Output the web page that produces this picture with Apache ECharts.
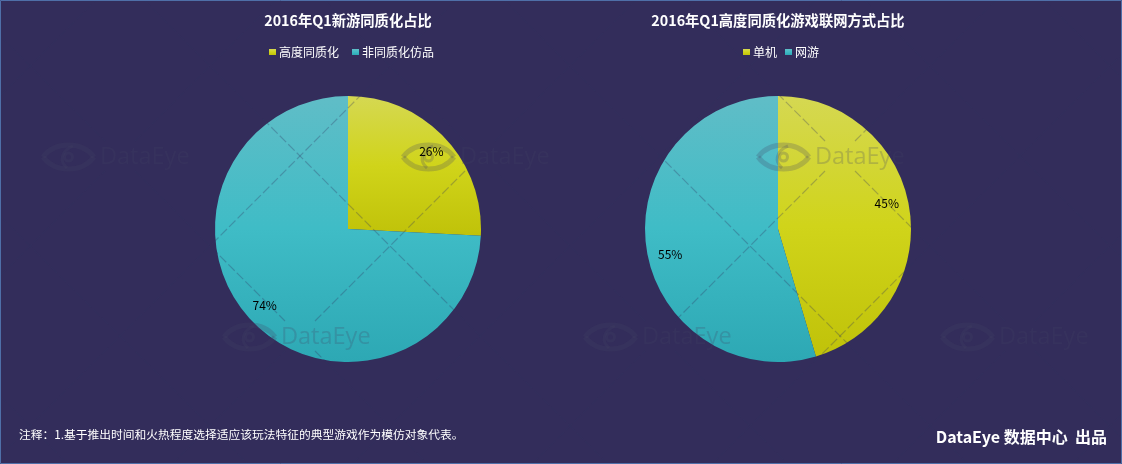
<!DOCTYPE html>
<html>
<head>
<meta charset="utf-8">
<style>
  html, body { margin: 0; padding: 0; background: #332d5b; }
  #main { width: 1122px; height: 464px; }
</style>
<script src="https://cdn.jsdelivr.net/npm/echarts@6/dist/echarts.min.js"></script>
</head>
<body>
<div id="main"></div>
<script>
// 数据
var leftTitle = '2016年Q1新游同质化占比';
var leftNames = ['高度同质化', '非同质化仿品'];
var leftValues = [25.8, 74.2];
var rightTitle = '2016年Q1高度同质化游戏联网方式占比';
var rightNames = ['单机', '网游'];
var rightValues = [45.4, 54.6];
var noteText = '注释：1.基于推出时间和火热程度选择适应该玩法特征的典型游戏作为模仿对象代表。';
var sourceText = 'DataEye 数据中心  出品';

var cjk = '"Noto Sans CJK SC", "Noto Sans", sans-serif';
var yellow = grad('#d5d852', '#d0d41a', '#c0c209');
var teal = grad('#60bdc7', '#3fbcc6', '#2da8b4');

function grad(a, b, c) {
    return {
        type: 'linear', x: 0, y: 0, x2: 0, y2: 1,
        colorStops: [{offset: 0, color: a}, {offset: 0.5, color: b}, {offset: 1, color: c}]
    };
}

function toData(names, values) {
    return names.map(function (n, i) {
        return {name: n, value: values[i], itemStyle: {color: i === 0 ? yellow : teal}};
    });
}

// 饼图本体
function pie(names, values, cx) {
    return {
        type: 'pie',
        z: 2,
        center: [cx, 229],
        radius: 133,
        startAngle: 90,
        label: {show: false},
        labelLine: {show: false},
        data: toData(names, values)
    };
}

// 百分比标签单独一层，压在水印上面
function pieLabels(names, values, cx, nudge) {
    return {
        type: 'pie',
        z: 4,
        silent: true,
        center: [cx, 229],
        radius: [91, 133],
        startAngle: 90,
        percentPrecision: 0,
        avoidLabelOverlap: false,
        itemStyle: {color: 'transparent'},
        label: {position: 'inner', formatter: '{d}%', color: '#000', fontSize: 12, fontFamily: cjk},
        labelLine: {show: false},
        emphasis: {disabled: true},
        data: names.map(function (n, i) {
            return {name: n, value: values[i], label: {offset: nudge[i]}};
        })
    };
}

// 水印
var markColor = 'rgba(68,68,100,0.24)';
var markPos = [[41, 157], [401, 157], [756, 157], [222, 337], [583, 337], [940, 337]];
var gapCentres = [];
[-24, 156, 336, 516].forEach(function (y, r) {
    for (var x = (r % 2 ? 120 : 300) - 720; x < 1500; x += 360) gapCentres.push([x, y]);
});

function diagonals() {
    var out = [];
    [1, -1].forEach(function (dir) {
        var k0 = dir === 1 ? -396 : 96;
        for (var k = k0; k < 1700; k += 180) {
            var xs = [dir === 1 ? Math.max(0, k) : Math.max(0, k - 464),
                      dir === 1 ? Math.min(1122, k + 464) : Math.min(1122, k)];
            if (xs[0] >= xs[1]) continue;
            var cuts = gapCentres.filter(function (p) {
                return dir === 1 ? p[0] - p[1] === k : p[0] + p[1] === k;
            }).map(function (p) { return p[0]; }).sort(function (a, b) { return a - b; });
            var from = xs[0];
            cuts.concat([1e5]).forEach(function (cx) {
                var to = Math.min(xs[1], cx - 15);
                if (to > from) {
                    out.push({
                        type: 'line', silent: true, z: 3,
                        shape: {
                            x1: from, y1: dir === 1 ? from - k : k - from,
                            x2: to, y2: dir === 1 ? to - k : k - to
                        },
                        style: {stroke: 'rgba(50,52,95,0.3)', lineWidth: 1.2, lineDash: [9, 3]}
                    });
                }
                from = Math.max(from, cx + 15);
            });
        }
    });
    return out;
}

function curve(x1, y1, cx1, cy1, cx2, cy2, x2, y2, w) {
    return {
        type: 'bezierCurve', z: 3,
        shape: {x1: x1, y1: y1, cpx1: cx1, cpy1: cy1, cpx2: cx2, cpy2: cy2, x2: x2, y2: y2},
        style: {fill: null, stroke: markColor, lineWidth: w}
    };
}

function watermark(p) {
    return {
        type: 'group', silent: true, x: p[0], y: p[1] - 13, z: 3,
        children: [
            curve(2, 13, 14, -3, 41, -3, 53, 13, 5),
            curve(2, 13, 14, 29, 41, 29, 53, 13, 5),
            curve(32, 2, 20, 7, 18, 17, 26, 24, 3),
            {type: 'circle', z: 3, shape: {cx: 27.5, cy: 13, r: 4}, style: {fill: null, stroke: markColor, lineWidth: 3}},
            {type: 'text', z: 3, x: 59, y: 13, style: {
                text: 'DataEye', fill: markColor, font: '23.5px "Open Sans", sans-serif',
                textAlign: 'left', textVerticalAlign: 'middle'
            }}
        ]
    };
}

function legend(names, x, gap) {
    return {
        data: names,
        left: x,
        top: 41,
        textStyle: {color: '#fff', fontSize: 12, fontFamily: cjk, padding: [0, 0, 0, -2]},
        itemWidth: 7,
        itemHeight: 6,
        itemGap: gap,
        icon: 'rect'
    };
}

var chart = echarts.init(document.getElementById('main'));
chart.setOption({
    backgroundColor: '#332d5b',
    animation: false,
    tooltip: {trigger: 'item'},
    title: [
        {text: leftTitle, left: 343, top: 8, textAlign: 'center', textStyle: {color: '#fff', fontSize: 14.3, fontWeight: 'bold', fontFamily: cjk}},
        {text: rightTitle, left: 773, top: 8, textAlign: 'center', textStyle: {color: '#fff', fontSize: 14.3, fontWeight: 'bold', fontFamily: cjk}},
        {text: noteText, left: 14, top: 424, textStyle: {color: '#fff', fontSize: 11.75, fontWeight: 'normal', fontFamily: cjk}},
        {text: sourceText, right: 10, top: 424, textStyle: {color: '#fff', fontSize: 16, fontWeight: 'bold', fontFamily: cjk}}
    ],
    legend: [legend(leftNames, 264, 13), legend(rightNames, 738, 8)],
    series: [
        pie(leftNames, leftValues, 348),
        pie(rightNames, rightValues, 778),
        pieLabels(leftNames, leftValues, 348, [[0, 2], [0, -3]]),
        pieLabels(rightNames, rightValues, 778, [[-5, -9], [6, 9]])
    ],
    graphic: {elements: diagonals().concat(markPos.map(watermark)).concat([{
        type: 'rect', silent: true, z: 5,
        shape: {x: 0.5, y: 0.5, width: 1121, height: 463},
        style: {fill: null, stroke: '#4f6fa8', lineWidth: 1}
    }])}
});
</script>
</body>
</html>
